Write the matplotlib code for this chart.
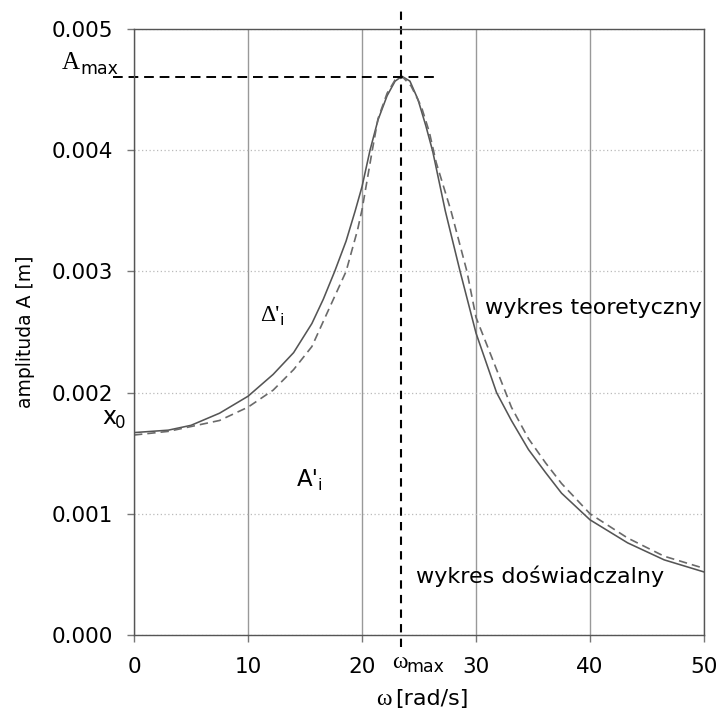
import matplotlib
matplotlib.use('Agg')
import matplotlib.pyplot as plt

# dane
omega_teor = [0, 3, 5, 7.5, 10, 12.2, 14.0, 15.6, 16.6, 17.6, 18.6, 19.4, 20.0,
              20.7, 21.4, 22.2, 22.9, 23.5, 24.2, 24.9, 25.6, 26.2, 27.3, 28.6,
              30.0, 31.8, 33.1, 34.6, 36.1, 37.5, 40.0, 43.3, 46.5, 50.0]
A_teor = [0.00167, 0.00169, 0.00173, 0.00183, 0.00197, 0.00215, 0.00233, 0.00257,
          0.00277, 0.00300, 0.00325, 0.00350, 0.00370, 0.00400, 0.00425, 0.00445,
          0.00457, 0.00461, 0.00457, 0.00442, 0.00420, 0.00399, 0.00350, 0.00300,
          0.00249, 0.00200, 0.00177, 0.00153, 0.00134, 0.00117, 0.00095, 0.00076,
          0.00062, 0.00052]

omega_dosw = [0, 3, 5, 7.5, 10, 12.2, 14.0, 15.6, 17.0, 18.6, 19.6, 20.0, 20.9,
              21.4, 22.2, 22.9, 23.6, 24.3, 25.2, 25.9, 26.5, 27.8, 29.2, 30.0,
              32.6, 33.1, 34.6, 36.1, 37.5, 40.0, 43.3, 46.5, 50.0]
A_dosw = [0.00165, 0.00168, 0.00172, 0.00177, 0.00188, 0.00202, 0.00219, 0.00238,
          0.00267, 0.00300, 0.00334, 0.00351, 0.00400, 0.00426, 0.00447, 0.00458,
          0.00460, 0.00453, 0.00436, 0.00415, 0.00390, 0.00350, 0.00300, 0.00262,
          0.00200, 0.00188, 0.00162, 0.00142, 0.00125, 0.00100, 0.00080, 0.00065,
          0.00055]

omega_max = 23.4
A_max = 0.0046

x_ticks = [0, 10, 20, 30, 40, 50]
y_ticks = [0.000, 0.001, 0.002, 0.003, 0.004, 0.005]
y_ticklabels = ['0.000', '0.001', '0.002', '0.003', '0.004', '0.005']

plt.rcParams['font.family'] = ['DejaVu Sans']
serif = ['Liberation Serif', 'DejaVu Serif']

fig = plt.figure(figsize=(7.21, 7.11), dpi=100)
ax = fig.add_axes([0.1859, 0.1069, 0.7906, 0.8523])

ax.set_xlim(0, 50)
ax.set_ylim(0, 0.005)
ax.set_xticks(x_ticks)
ax.set_yticks(y_ticks)
ax.set_yticklabels(y_ticklabels)

# siatka: pionowa ciagla, pozioma kropkowana
ax.grid(axis='x', color='#999999', lw=1.0, ls='-')
ax.grid(axis='y', color='#bbbbbb', lw=0.9, ls=(0, (1, 2)))
ax.set_axisbelow(True)

for s in ax.spines.values():
    s.set_color('#555555')
    s.set_linewidth(1.0)

ax.tick_params(direction='out', length=5, width=1, color='#777777',
               labelsize=15.5, labelcolor='black')
ax.tick_params(axis='y', pad=10)
ax.tick_params(axis='x', pad=11)

# krzywe
ax.plot(omega_teor, A_teor, color='#555555', lw=1.15)
ax.plot(omega_dosw, A_dosw, color='#6a6a6a', lw=1.2, dashes=(5, 3))

# linie pomocnicze
ax.plot([omega_max, omega_max], [-0.0001, 0.00516], color='black', lw=1.5,
        dashes=(4, 3), clip_on=False)
ax.plot([-1.85, 26.5], [A_max, A_max], color='black', lw=1.4,
        dashes=(5, 3), clip_on=False)

# opisy
ax.text(-6.3, 0.00467, 'A', family=serif, fontsize=18, clip_on=False)
ax.text(-4.7, 0.00463, 'max', fontsize=12.5, clip_on=False)

ax.text(22.6, -0.000275, 'ω', family=serif, fontsize=17, clip_on=False)
ax.text(23.9, -0.000305, 'max', fontsize=12.5, clip_on=False)

ax.text(-2.8, 0.00174, 'x', fontsize=17, clip_on=False)
ax.text(-1.7, 0.00171, '0', fontsize=12, clip_on=False)

ax.text(11.1, 0.00259, "Δ'", family=serif, fontsize=17)
ax.text(12.8, 0.00256, 'i', fontsize=11.5)

ax.text(14.3, 0.00123, "A'", fontsize=16.5)
ax.text(16.1, 0.00120, 'i', fontsize=11.5)

ax.text(30.8, 0.00265, 'wykres teoretyczny', fontsize=16)
ax.text(24.7, 0.00043, 'wykres doświadczalny', fontsize=16)

ax.set_ylabel('amplituda A [m]', fontsize=13.5, labelpad=12)

# opis osi x: omega szeryfowa + jednostka
ax.text(21.2, -0.000575, 'ω', family=serif, fontsize=17, clip_on=False)
ax.text(22.9, -0.000575, '[rad/s]', fontsize=16, clip_on=False)

fig.savefig('out.png', dpi=100)
